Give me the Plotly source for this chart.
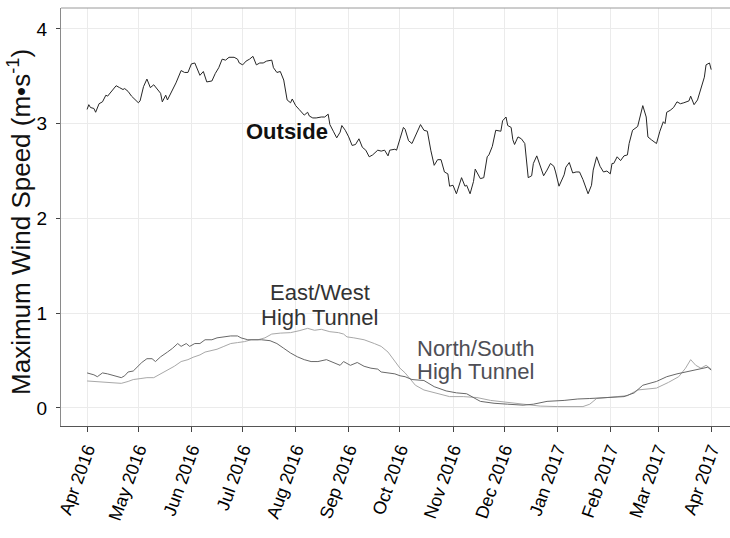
import plotly.graph_objects as go

# Outside station: 7-day running maximum wind speed (m/s)
outside_dates = [
    "2016-04-01", "2016-04-02", "2016-04-03", "2016-04-05", "2016-04-06", "2016-04-08", "2016-04-10",
    "2016-04-12", "2016-04-13", "2016-04-16", "2016-04-18", "2016-04-20", "2016-04-22", "2016-04-23",
    "2016-04-25", "2016-04-27", "2016-04-29",
    "2016-05-01", "2016-05-02", "2016-05-04", "2016-05-06", "2016-05-08", "2016-05-10", "2016-05-12",
    "2016-05-14", "2016-05-15", "2016-05-17", "2016-05-18", "2016-05-20", "2016-05-23", "2016-05-26",
    "2016-05-28", "2016-05-30",
    "2016-06-01", "2016-06-03", "2016-06-04", "2016-06-06", "2016-06-08", "2016-06-10", "2016-06-13",
    "2016-06-15", "2016-06-17", "2016-06-19", "2016-06-21", "2016-06-23", "2016-06-26", "2016-06-28",
    "2016-06-29",
    "2016-07-01", "2016-07-03", "2016-07-05", "2016-07-07", "2016-07-09", "2016-07-11", "2016-07-13",
    "2016-07-15", "2016-07-18", "2016-07-19", "2016-07-21", "2016-07-23", "2016-07-25", "2016-07-27",
    "2016-07-29", "2016-07-30",
    "2016-08-01", "2016-08-03", "2016-08-06", "2016-08-08", "2016-08-09", "2016-08-11", "2016-08-13",
    "2016-08-16", "2016-08-18", "2016-08-20", "2016-08-21", "2016-08-23", "2016-08-25", "2016-08-27",
    "2016-08-28", "2016-08-30",
    "2016-09-01", "2016-09-03", "2016-09-05", "2016-09-07", "2016-09-09", "2016-09-11", "2016-09-13",
    "2016-09-15", "2016-09-18", "2016-09-20", "2016-09-22", "2016-09-24", "2016-09-25", "2016-09-28",
    "2016-09-29",
    "2016-10-01", "2016-10-03", "2016-10-04", "2016-10-06", "2016-10-08", "2016-10-09", "2016-10-11",
    "2016-10-13", "2016-10-15", "2016-10-17", "2016-10-19", "2016-10-21", "2016-10-23", "2016-10-25",
    "2016-10-27", "2016-10-29", "2016-10-30",
    "2016-11-01", "2016-11-03", "2016-11-06", "2016-11-08", "2016-11-09", "2016-11-11", "2016-11-13",
    "2016-11-14", "2016-11-15", "2016-11-17", "2016-11-19", "2016-11-21", "2016-11-22", "2016-11-24",
    "2016-11-26", "2016-11-29", "2016-11-30",
    "2016-12-02", "2016-12-03", "2016-12-05", "2016-12-06", "2016-12-07", "2016-12-09", "2016-12-11",
    "2016-12-13", "2016-12-15", "2016-12-17", "2016-12-18", "2016-12-20", "2016-12-22", "2016-12-23",
    "2016-12-24", "2016-12-26", "2016-12-28", "2016-12-30", "2016-12-31",
    "2017-01-02", "2017-01-05", "2017-01-06", "2017-01-08", "2017-01-10", "2017-01-12", "2017-01-14",
    "2017-01-16", "2017-01-19", "2017-01-21", "2017-01-22", "2017-01-24", "2017-01-26", "2017-01-28",
    "2017-01-30",
    "2017-02-01", "2017-02-02", "2017-02-03", "2017-02-05", "2017-02-07", "2017-02-09", "2017-02-11",
    "2017-02-12", "2017-02-14", "2017-02-17", "2017-02-19", "2017-02-20", "2017-02-22", "2017-02-23",
    "2017-02-25", "2017-02-28",
    "2017-03-02", "2017-03-04", "2017-03-05", "2017-03-06", "2017-03-08", "2017-03-10", "2017-03-12",
    "2017-03-14", "2017-03-16", "2017-03-19", "2017-03-20", "2017-03-22", "2017-03-24", "2017-03-27",
    "2017-03-28", "2017-03-29", "2017-03-31", "2017-04-01",
]
outside_speed = [
    3.15, 3.20, 3.17, 3.16, 3.12, 3.21, 3.23,
    3.30, 3.29, 3.36, 3.40, 3.38, 3.36, 3.37,
    3.34, 3.29, 3.25,
    3.22, 3.24, 3.39, 3.47, 3.38, 3.41, 3.36,
    3.32, 3.23, 3.30, 3.25, 3.32, 3.43, 3.56,
    3.54, 3.54,
    3.63, 3.64, 3.59, 3.51, 3.55, 3.44, 3.45,
    3.53, 3.59, 3.68, 3.67, 3.70, 3.70, 3.68,
    3.64,
    3.62, 3.66, 3.68, 3.71, 3.62, 3.64, 3.64,
    3.66, 3.67, 3.59, 3.54, 3.55, 3.46, 3.25,
    3.22, 3.26,
    3.19, 3.15, 3.09, 3.12, 3.08, 3.06, 3.06,
    3.07, 3.07, 3.10, 2.99, 2.92, 2.85, 2.91,
    2.98, 2.93,
    2.86, 2.77, 2.78, 2.84, 2.75, 2.72, 2.65,
    2.67, 2.72, 2.71, 2.72, 2.66, 2.72, 2.73,
    2.72,
    2.84, 2.96, 2.94, 2.82, 2.79, 2.83, 2.92,
    2.99, 2.93, 2.92, 2.72, 2.56, 2.62, 2.62,
    2.49, 2.47, 2.34,
    2.35, 2.26, 2.43, 2.34, 2.35, 2.26, 2.39,
    2.52, 2.49, 2.42, 2.43, 2.65, 2.67, 2.76,
    2.93, 2.92, 3.03,
    3.07, 2.98, 2.96, 2.83, 2.78, 2.86, 2.84,
    2.79, 2.43, 2.45, 2.58, 2.66, 2.55, 2.48,
    2.45, 2.51, 2.58, 2.55, 2.49,
    2.34, 2.46, 2.54, 2.59, 2.48, 2.49, 2.49,
    2.41, 2.26, 2.35, 2.51, 2.65, 2.55, 2.49,
    2.50,
    2.47, 2.58, 2.58, 2.65, 2.61, 2.66, 2.67,
    2.79, 2.93, 2.97, 3.11, 3.19, 3.07, 2.86,
    2.83, 2.79,
    2.92, 3.02, 3.00, 3.12, 3.14, 3.17, 3.23,
    3.21, 3.22, 3.24, 3.29, 3.20, 3.25, 3.45,
    3.49, 3.62, 3.64, 3.57,
]

# North/South oriented high tunnel
ns_dates = [
    "2016-04-01", "2016-04-05", "2016-04-07", "2016-04-10", "2016-04-13", "2016-04-17", "2016-04-21",
    "2016-04-23", "2016-04-25", "2016-04-28", "2016-05-01", "2016-05-03", "2016-05-06", "2016-05-09",
    "2016-05-11", "2016-05-14", "2016-05-18", "2016-05-21", "2016-05-24", "2016-05-26", "2016-05-29",
    "2016-05-31", "2016-06-03", "2016-06-06", "2016-06-09", "2016-06-13", "2016-06-16", "2016-06-20",
    "2016-06-24", "2016-06-28", "2016-06-30", "2016-07-04", "2016-07-08", "2016-07-12", "2016-07-17",
    "2016-07-21", "2016-07-25", "2016-07-29", "2016-08-02", "2016-08-06", "2016-08-10", "2016-08-14",
    "2016-08-19", "2016-08-23", "2016-08-27", "2016-08-29", "2016-09-02", "2016-09-06", "2016-09-10",
    "2016-09-14", "2016-09-18", "2016-09-20", "2016-09-24", "2016-09-28", "2016-10-01", "2016-10-04",
    "2016-10-08", "2016-10-15", "2016-10-21", "2016-10-28", "2016-11-03", "2016-11-09", "2016-11-17",
    "2016-11-25", "2016-12-03", "2016-12-12", "2016-12-18", "2016-12-26", "2017-01-05", "2017-01-13",
    "2017-01-20", "2017-01-28", "2017-02-09", "2017-02-15", "2017-02-20", "2017-02-28", "2017-03-06",
    "2017-03-12", "2017-03-17", "2017-03-22", "2017-03-27", "2017-03-30", "2017-04-01",
]
ns_speed = [
    0.37, 0.35, 0.33, 0.37, 0.36, 0.34, 0.32,
    0.34, 0.38, 0.39, 0.45, 0.48, 0.52, 0.52,
    0.49, 0.54, 0.59, 0.63, 0.68, 0.65, 0.68,
    0.65, 0.68, 0.68, 0.72, 0.72, 0.74, 0.75,
    0.76, 0.76, 0.74, 0.72, 0.72, 0.72, 0.71,
    0.68, 0.63, 0.58, 0.54, 0.51, 0.49, 0.49,
    0.51, 0.48, 0.45, 0.49, 0.45, 0.48, 0.44,
    0.42, 0.41, 0.38, 0.37, 0.36, 0.34, 0.33,
    0.30, 0.29, 0.225, 0.18, 0.16, 0.15, 0.07,
    0.05, 0.04, 0.03, 0.04, 0.07, 0.08, 0.095,
    0.10, 0.11, 0.12, 0.16, 0.24, 0.28, 0.33,
    0.36, 0.38, 0.40, 0.42, 0.43, 0.40,
]

# East/West oriented high tunnel
ew_dates = [
    "2016-04-01", "2016-04-05", "2016-04-11", "2016-04-16", "2016-04-21", "2016-04-25", "2016-04-28",
    "2016-05-02", "2016-05-06", "2016-05-10", "2016-05-14", "2016-05-18", "2016-05-22", "2016-05-26",
    "2016-05-30", "2016-06-02", "2016-06-06", "2016-06-09", "2016-06-12", "2016-06-16", "2016-06-20",
    "2016-06-24", "2016-06-28", "2016-07-02", "2016-07-06", "2016-07-10", "2016-07-14", "2016-07-18",
    "2016-07-23", "2016-07-29", "2016-08-03", "2016-08-08", "2016-08-12", "2016-08-16", "2016-08-21",
    "2016-08-26", "2016-08-29", "2016-08-31", "2016-09-04", "2016-09-10", "2016-09-16", "2016-09-20",
    "2016-09-24", "2016-09-27", "2016-10-01", "2016-10-04", "2016-10-07", "2016-10-10", "2016-10-15",
    "2016-10-21", "2016-10-30", "2016-11-07", "2016-11-15", "2016-11-23", "2016-12-03", "2016-12-12",
    "2016-12-22", "2017-01-01", "2017-01-16", "2017-01-20", "2017-01-24", "2017-02-05", "2017-02-11",
    "2017-02-17", "2017-02-28", "2017-03-07", "2017-03-13", "2017-03-17", "2017-03-20", "2017-03-23",
    "2017-03-26", "2017-03-29", "2017-04-01",
]
ew_speed = [
    0.285, 0.28, 0.28, 0.27, 0.26, 0.28, 0.30,
    0.31, 0.32, 0.32, 0.36, 0.40, 0.44, 0.49,
    0.51, 0.535, 0.56, 0.59, 0.60, 0.62, 0.65,
    0.68, 0.69, 0.70, 0.72, 0.72, 0.74, 0.78,
    0.79, 0.795, 0.815, 0.84, 0.82, 0.83, 0.805,
    0.795, 0.78, 0.75, 0.74, 0.72, 0.68, 0.65,
    0.59, 0.52, 0.42, 0.37, 0.30, 0.24, 0.19,
    0.16, 0.12, 0.12, 0.11, 0.08, 0.06, 0.04,
    0.02, 0.015, 0.015, 0.04, 0.10, 0.12, 0.13,
    0.19, 0.21, 0.27, 0.33, 0.42, 0.51, 0.45,
    0.42, 0.45, 0.41,
]

FONT = "Liberation Sans, Arial, sans-serif"

fig = go.Figure()
fig.add_trace(go.Scatter(x=outside_dates, y=outside_speed, mode="lines",
                         line=dict(color="#262626", width=1), name="Outside"))
fig.add_trace(go.Scatter(x=ew_dates, y=ew_speed, mode="lines",
                         line=dict(color="#a8a8a8", width=1), name="East/West High Tunnel"))
fig.add_trace(go.Scatter(x=ns_dates, y=ns_speed, mode="lines",
                         line=dict(color="#686868", width=1), name="North/South High Tunnel"))

# direct labels next to the lines
fig.add_annotation(x="2016-07-27", y=2.92, text="<b>Outside</b>", showarrow=False,
                   font=dict(family=FONT, size=22, color="#111111"))
fig.add_annotation(x="2016-08-15", y=1.215, text="East/West", showarrow=False,
                   font=dict(family=FONT, size=22, color="#333333"))
fig.add_annotation(x="2016-08-15", y=0.96, text="High Tunnel", showarrow=False,
                   font=dict(family=FONT, size=22, color="#333333"))
fig.add_annotation(x="2016-11-14", y=0.625, text="North/South", showarrow=False,
                   font=dict(family=FONT, size=22, color="#4e4e55"))
fig.add_annotation(x="2016-11-14", y=0.385, text="High Tunnel", showarrow=False,
                   font=dict(family=FONT, size=22, color="#4e4e55"))

# y-axis title
fig.add_annotation(xref="paper", yref="paper", x=-0.062, y=0.487, textangle=-90,
                   text="Maximum Wind Speed (m\u2022s<sup>-1</sup>)", showarrow=False,
                   xanchor="center", yanchor="middle",
                   font=dict(family=FONT, size=26, color="#111111"))

# panel top border
fig.add_shape(type="line", xref="paper", yref="paper", x0=0, x1=1, y0=1, y1=1,
              line=dict(color="#9a9a9a", width=1))

fig.update_layout(
    width=730, height=538,
    margin=dict(l=61, r=0, t=8, b=112),
    paper_bgcolor="white", plot_bgcolor="white",
    showlegend=False,
    font=dict(family=FONT, color="#111111"),
)
fig.update_xaxes(
    type="date", range=["2016-03-16 18:00", "2017-04-12"],
    tick0="2016-04-01", dtick="M1", tickformat="%b %Y", tickangle=-70,
    ticks="outside", ticklen=5, tickcolor="#444444", tickwidth=1,
    tickfont=dict(family=FONT, size=18, color="#000000"),
    showgrid=True, gridcolor="#ebebeb", gridwidth=1,
    showline=True, linecolor="#555555", linewidth=1,
    zeroline=False,
)
fig.update_yaxes(
    range=[-0.19, 4.22], tickvals=[0, 1, 2, 3, 4],
    ticks="outside", ticklen=4, tickcolor="#444444", tickwidth=1,
    tickfont=dict(family=FONT, size=19, color="#000000"),
    ticklabelstandoff=5,
    showgrid=True, gridcolor="#ebebeb", gridwidth=1,
    showline=True, linecolor="#8a8a8a", linewidth=1,
    zeroline=False,
)

fig.write_html("out.html")
